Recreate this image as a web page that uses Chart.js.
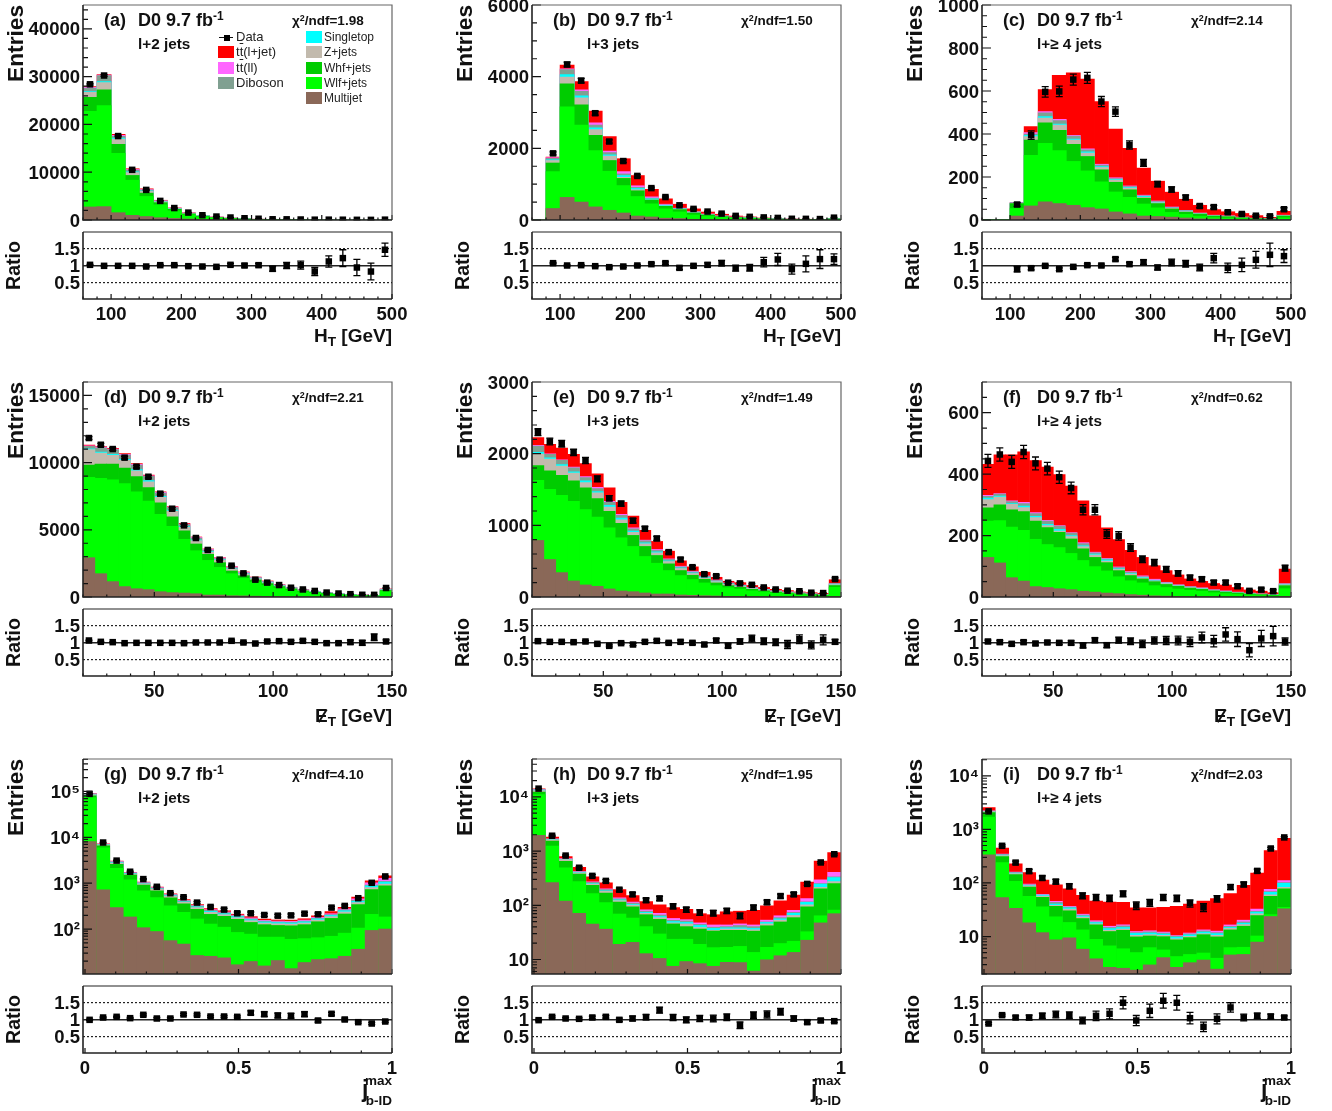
<!DOCTYPE html>
<html lang="en">
<head>
<meta charset="UTF-8">
<title>D0 9.7 fb-1 kinematic distributions</title>
<script src="https://cdn.jsdelivr.net/npm/chart.js"></script>
<style>
  html, body { margin: 0; padding: 0; background: #fff; }
  #page { position: relative; width: 1332px; height: 1111px; overflow: hidden; font-family: "Liberation Sans", Arial, sans-serif; color: #111; }
  canvas { position: absolute; }
  .txt { position: absolute; white-space: nowrap; line-height: 1; font-weight: bold; }
  .txt sup { font-size: 66%; line-height: 0; vertical-align: baseline; position: relative; top: -0.5em; }
  .txt sub { font-size: 72%; line-height: 0; vertical-align: baseline; position: relative; top: 0.3em; }
  .tag, .lumi { font-size: 18px; }
  .jets { font-size: 15.3px; }
  .chi { font-size: 13.5px; }
  .xt { font-size: 19px; }
  .et { position: relative; display: inline-block; }
  .et::after { content: ""; position: absolute; left: 0; top: 9px; width: 15px; height: 1.5px; background: #111; transform: rotate(-58deg); }
  .leg { position: absolute; white-space: nowrap; line-height: 1; color: #222; }
  .bar { text-decoration: overline; }
  .sw { position: absolute; width: 16px; height: 12px; }
</style>
</head>
<body>
<div id="page"></div>
<script>
// bin centres
const htBins = [70,90,110,130,150,170,190,210,230,250,270,290,310,330,350,370,390,410,430,450,470,490];
const metBins = [22.5,27.5,32.5,37.5,42.5,47.5,52.5,57.5,62.5,67.5,72.5,77.5,82.5,87.5,92.5,97.5,102.5,107.5,112.5,117.5,122.5,127.5,132.5,137.5,142.5,147.5];
const jBins = [.015,.059,.103,.147,.19,.234,.278,.321,.365,.409,.453,.496,.54,.584,.628,.671,.715,.759,.803,.846,.89,.934,.978];

// every sample array is the height of the stack up to and including that sample,
// the way ROOT's THStack overdraws them
// (a) HT, l+2 jets
const aMultijet = [2800,2870,1600,1050,800,550,400,280,200,140,100,70,50,35,25,20,15,12,10,8,6,8];
const aWlf = [22800,24000,14000,8400,5000,3250,2000,1180,730,480,330,230,160,115,85,65,50,38,30,25,20,30];
const aWhf = [25760,27300,15900,9400,5700,3700,2300,1350,860,570,390,275,195,140,105,80,62,48,38,32,26,38];
const aZjets = [26800,28840,17000,10000,6050,3900,2420,1450,930,620,425,300,212,153,115,88,68,52,42,35,29,42];
const aSingletop = [26950,29050,17220,10150,6150,3950,2450,1470,950,635,435,308,218,158,118,90,70,54,43,36,30,43];
const aDiboson = [27700,30300,17570,10500,6350,4050,2510,1510,980,660,450,320,226,165,123,94,73,56,45,38,31,45];
const aTtll = [27850,30380,17780,10650,6450,4120,2550,1540,1010,680,465,330,233,170,127,97,76,58,47,39,32,46];
const aTtlj = [28000,30500,18000,10800,6600,4200,2600,1580,1050,700,480,340,240,175,130,100,78,60,48,40,33,47];
const aData = [28400,30240,17570,10500,6300,4000,2500,1550,1000,720,520,370,260,150,140,105,65,70,58,38,27,70];
const aRatio = [1.02,.99,.99,.99,.97,1.01,1.01,.98,.97,.96,1.02,1,1.01,.9,1,1.01,.82,1.12,1.22,.94,.82,1.47];
const aRatioErr = [.01,.01,.01,.01,.015,.02,.02,.025,.03,.035,.04,.05,.05,.07,.09,.12,.12,.17,.25,.24,.25,.2];

// (b) HT, l+3 jets
const bMultijet = [0,330,640,510,375,280,205,120,95,60,50,30,25,18,14,12,9,7,5,4,3,7];
const bWlf = [5,1360,3170,2660,1950,1370,970,665,460,320,235,150,110,78,56,45,33,25,19,15,11,28];
const bWhf = [5,1600,3810,3220,2375,1670,1170,825,565,390,300,205,150,105,76,62,45,34,27,21,15,39];
const bZjets = [5,1670,4000,3420,2535,1795,1200,855,570,400,310,215,158,112,82,67,49,37,29,23,17,43];
const bSingletop = [5,1690,4065,3475,2580,1830,1250,890,600,420,320,225,165,116,85,70,51,38,30,24,17,44];
const bDiboson = [5,1730,4205,3600,2660,1890,1295,920,620,430,330,235,170,120,88,72,52,39,31,25,18,45];
const bTtll = [5,1750,4225,3640,2720,1935,1360,965,655,450,340,245,178,125,92,75,55,41,33,26,19,47];
const bTtlj = [5,1765,4330,3870,3050,2340,1720,1250,865,600,450,320,232,170,120,95,65,48,38,30,22,55];
const bData = [null,1860,4340,3890,2980,2190,1645,1230,890,640,410,310,235,178,115,88,72,58,34,32,26,65];
const bRatio = [null,1.07,1,1.01,.98,.95,.97,1,1.04,1.07,.93,.99,1.02,1.07,.92,.93,1.1,1.18,.89,1.05,1.19,1.19];
const bRatioErr = [null,.02,.015,.02,.02,.025,.03,.03,.035,.04,.05,.05,.06,.08,.09,.1,.14,.18,.15,.24,.28,.16];

// (c) HT, l+>=4 jets
const cMultijet = [0,0,20,67,86,78,70,59,53,39,30,20,18,15,11,7,6,5,4,2,2,3];
const cWlf = [2,2,55,302,358,325,274,230,179,132,107,76,58,37,28,18,13,11,8,5,4,12];
const cWhf = [2,2,78,373,454,419,353,297,235,177,142,103,78,53,38,29,20,17,12,8,6,20];
const cZjets = [2,2,79,389,476,443,373,313,246,187,150,107,82,56,41,31,22,19,14,9,6,22];
const cSingletop = [2,2,80,395,482,448,378,319,250,190,153,111,84,57,43,32,22,19,14,9,6,22];
const cDiboson = [2,2,81,401,500,464,392,328,257,194,157,114,87,59,45,33,23,20,15,10,7,23];
const cTtll = [2,2,81.5,408,506,470,395,333,261,198,160,117,90,62,46,34,24,21,15,10,7,24];
const cTtlj = [2,2,82,436,608,674,686,657,552,425,335,243,182,131,98,70,50,40,32,22,14,42];
const cData = [null,null,72,395,596,598,653,661,551,504,349,266,167,142,105,65,60,36,28,20,17,50];
const cRatio = [null,null,.89,.92,.99,.89,.96,1.01,1,1.19,1.04,1.1,.94,1.09,1.05,.94,1.22,.93,1.02,1.17,1.32,1.28];
const cRatioErr = [null,null,.08,.05,.04,.04,.04,.04,.04,.05,.05,.07,.07,.1,.1,.1,.14,.14,.2,.25,.35,.19];

// (d) MET, l+2 jets
const dMultijet = [2950,1760,1170,800,640,570,420,350,320,270,170,170,120,110,90,70,60,50,40,30,25,20,17,13,10,35];
const dWlf = [8930,8850,8750,8460,7860,7170,6180,5280,4320,3470,2750,2230,1760,1410,1120,890,700,540,410,320,250,190,150,115,95,440];
const dWhf = [9850,9920,9920,9620,8980,8160,7040,6000,4940,3970,3200,2580,1960,1610,1290,1020,800,630,480,370,290,225,175,135,110,510];
const dZjets = [11000,10740,10560,10190,9420,8600,7440,6420,5210,4220,3370,2780,2110,1740,1390,1090,860,680,520,400,315,245,190,150,120,560];
const dSingletop = [11060,10810,10640,10270,9500,8680,7510,6500,5260,4270,3420,2800,2130,1760,1410,1120,875,690,530,408,320,250,195,153,123,570];
const dDiboson = [11240,11130,10990,10590,9850,9000,7760,6670,5410,4410,3520,2880,2210,1810,1460,1170,910,720,550,425,335,260,205,160,128,595];
const dTtll = [11280,11190,11040,10640,9900,9050,7810,6720,5460,4460,3570,2930,2260,1860,1490,1190,930,735,560,435,342,266,210,165,132,610];
const dTtlj = [11330,11210,11090,10690,9950,9100,7860,6750,5510,4490,3600,2950,2280,1890,1510,1220,950,750,575,445,350,272,215,170,136,625];
const dData = [11830,11330,11010,10370,9700,8950,7690,6570,5330,4390,3500,2780,2330,1760,1290,1070,890,690,560,450,330,260,210,165,160,670];
const dRatio = [1.06,1.02,1.01,.98,.99,.99,.99,.99,.98,1,1,1,1.05,1,.97,1.03,1.04,1.02,1.05,1.02,.98,.98,1.01,.99,1.16,1.03];
const dRatioErr = [.01,.01,.01,.01,.01,.015,.015,.015,.02,.02,.02,.02,.025,.03,.03,.03,.03,.04,.04,.04,.05,.05,.06,.07,.1,.05];

// (e) MET, l+3 jets
const eMultijet = [794,528,345,229,173,154,117,89,79,61,47,47,33,28,23,19,14,11,9,8,6,5,4,3,3,10];
const eWlf = [1634,1508,1424,1340,1223,1121,971,831,710,570,476,374,304,248,201,163,135,115,90,75,60,50,40,30,24,140];
const eWhf = [1840,1765,1704,1625,1527,1378,1200,1032,864,710,584,467,374,308,252,201,163,140,112,92,74,62,50,38,30,165];
const eZjets = [2000,1929,1830,1733,1602,1457,1261,1083,906,747,621,500,402,332,271,220,182,155,124,102,82,69,56,43,35,178];
const eSingletop = [2022,1947,1854,1751,1625,1476,1284,1107,925,761,635,509,411,341,280,224,187,160,128,105,85,71,58,45,36,184];
const eDiboson = [2110,1994,1910,1807,1672,1518,1326,1144,957,789,654,528,425,355,290,234,196,167,134,110,89,74,61,47,38,190];
const eTtll = [2120,2003,1919,1817,1686,1536,1340,1158,971,798,668,537,434,364,299,243,201,172,138,113,92,76,63,49,39,193];
const eTtlj = [2228,2134,2083,1994,1868,1723,1527,1326,1135,934,780,644,509,425,350,280,224,205,165,138,112,95,75,65,55,245];
const eData = [2300,2170,2139,2017,1905,1649,1378,1303,1065,953,817,626,523,416,318,290,200,190,170,133,105,88,80,60,55,250];
const eRatio = [1.04,1.02,1.02,1.01,1.03,.96,.9,.98,.94,1.02,1.05,.99,1.02,.99,.94,1.06,.9,1.03,1.12,1.04,1.01,.94,1.1,.93,1.08,1.02];
const eRatioErr = [.03,.03,.03,.03,.03,.03,.03,.03,.035,.04,.04,.04,.05,.05,.05,.06,.06,.08,.1,.1,.1,.12,.13,.12,.15,.07];

// (f) MET, l+>=4 jets
const fMultijet = [130,112,64,53,35,32,28,25,20,17,14,12,9,7,5,4,3,2,2,2,1,1,1,1,1,3];
const fWlf = [248,250,229,218,189,172,162,143,120,100,86,67,54,47,38,32,27,23,20,15,12,10,8,6,5,28];
const fWhf = [291,301,285,279,248,227,212,190,158,130,113,87,71,60,51,42,36,30,26,21,17,14,11,9,7,38];
const fZjets = [318,326,303,292,260,234,216,198,165,138,118,91,76,63,53,45,38,32,28,22,18,15,12,10,8,41];
const fSingletop = [323,330,305,297,264,238,221,201,168,141,122,93,78,65,54,46,39,33,29,23,19,15,13,10,8,42];
const fDiboson = [329,336,312,305,273,248,232,209,175,145,125,97,82,67,56,47,40,34,30,24,20,16,13,11,9,44];
const fTtll = [332,338,314,309,276,251,234,211,178,147,127,99,84,70,59,49,41,35,31,25,21,17,14,11,9,45];
const fTtlj = [433,464,464,474,445,424,400,362,314,265,226,188,153,130,103,87,73,60,52,45,40,32,24,20,15,92];
const fData = [443,464,440,472,435,418,390,355,284,284,205,199,161,123,112,90,77,63,58,47,47,35,20,24,19,94];
const fRatio = [1.03,1.01,.96,1.01,.97,1,.99,.99,.91,1.07,.92,1.07,1.04,.96,1.06,1.06,1.06,1.02,1.15,1.04,1.24,1.1,.77,1.12,1.19,1.03];
const fRatioErr = [.04,.05,.05,.05,.05,.05,.05,.06,.07,.07,.07,.09,.1,.11,.11,.12,.13,.14,.16,.17,.2,.22,.2,.24,.29,.11];

// (g) j b-ID, l+2 jets
const gMultijet = [8260,730,299,187,109,90,57,48,27,26,24,17,20,16,21,14,19,22,23,26,37,95,102];
const gWlf = [75000,6000,2145,1210,693,495,325,236,169,131,112,86,79,68,68,61,63,66,71,83,107,213,187];
const gWhf = [81500,6630,2625,1530,925,693,487,360,275,213,193,166,142,127,122,120,127,147,174,217,348,743,893];
const gZjets = [87100,6970,2810,1610,988,755,530,392,299,236,210,180,155,138,133,131,138,160,190,240,385,820,973];
const gSingletop = [88500,7040,2850,1640,1000,770,545,400,310,247,220,190,163,146,141,139,147,170,202,256,410,890,1080];
const gDiboson = [90000,7200,2960,1700,1040,800,565,420,325,260,232,198,170,152,146,144,152,176,210,266,430,930,1120];
const gTtll = [91500,7280,3050,1730,1060,815,580,430,335,270,240,205,178,158,152,150,160,184,220,280,465,1040,1300];
const gTtlj = [93000,7350,3080,1760,1080,840,600,450,350,285,255,215,190,168,161,160,171,198,245,305,510,1150,1480];
const gData = [88700,7710,3110,1780,1230,836,606,495,378,304,266,221,221,203,196,199,217,210,294,320,471,1020,1406];
const gRatio = [.99,1.06,1.08,1.04,1.14,1.03,1.03,1.15,1.14,1.09,1.09,1.08,1.2,1.16,1.12,1.11,1.16,.97,1.17,1,.92,.88,.94];
const gRatioErr = [.02,.015,.02,.02,.03,.03,.03,.03,.03,.03,.03,.03,.06,.07,.07,.07,.07,.05,.04,.04,.03,.03,.03];

// (h) j b-ID, l+3 jets
const hMultijet = [1980,266,121,72,45.7,36.8,19.3,21,13,10.6,7.6,9.3,8.5,7.6,9,8.9,6.2,10,11.9,13.7,23,48,71];
const hWlf = [11200,1250,500,278,166,114,70,59,41,30,24,24,19.3,16.8,17,17.7,13.7,17,20,22,33,65,83];
const hWhf = [12400,1550,656,381,237,171,116,95,68,56,46,41,37,34,35,35,33.8,42.5,50,60,95,203,255];
const hZjets = [13300,1640,705,403,251,183,124,102,72,60,48,46,39.6,35,37,37,35.8,46,54,66,103,218,278];
const hSingletop = [13500,1660,715,410,256,188,128,106,75,63,51,49,43,38,39,39,38,49,57,72,115,250,330];
const hDiboson = [13700,1690,726,421,270,197,134,111,79,67,53.5,52,45,40,41,43,41,50,60,75,118,255,340];
const hTtll = [14000,1710,735,428,276,203,139,116,84,72,58,55,48,44,44,46,44,54,65,82,135,300,410];
const hTtlj = [14300,1840,802,507,340,262,197,154,119,103,92,85,71,68,77,79,82,99,123,157,273,665,950];
const hData = [14200,1920,826,493,349,282,194,159,124,134,96,83,74,72,79,64,91,114,148,159,248,617,875];
const hRatio = [.98,1.08,1.03,1.02,1.06,1.08,.99,1.03,1.07,1.28,1.06,.99,1.03,1.03,1.07,.83,1.13,1.15,1.23,1.03,.92,.97,.95];
const hRatioErr = [.02,.03,.03,.03,.04,.04,.05,.07,.08,.09,.09,.09,.09,.1,.1,.1,.1,.11,.1,.08,.05,.05,.04];

// (i) j b-ID, l+>=4 jets
const iMultijet = [340,54,34,18.3,12,8.8,9.6,5.9,3.9,2.7,2.6,2.4,3,4.1,2.7,3.3,3.7,2.5,4.6,4.7,8,24,33.5];
const iWlf = [1730,244,109,57,36.5,23.7,18.6,13.5,9,6.8,6,5.1,6.3,5.7,4.3,4.7,5,4,6.3,6.4,10.4,26,35.5];
const iWhf = [2080,316,145,85,55,37,30.7,22,16.8,12.6,13.3,10,10.4,10.1,8.8,9.7,11,10,13.5,15.8,25,57,79];
const iZjets = [2170,330,152,90,58,39,33,23.4,17.5,13.3,14,10.7,11,10.7,9.2,10.2,11.5,10.7,14.4,17,27,61,84];
const iSingletop = [2190,335,155,92,60,41,35,24.5,18.5,14.3,15,11.6,11.8,11.3,9.9,10.9,12.3,11.5,15,18,29,68,100];
const iDiboson = [2240,345,158,94,60.4,44,36,25.5,19,15,16,12,12.4,11.8,10.3,11.4,12.9,12,15.7,19,30,70,103];
const iTtll = [2260,350,162,97,62,46,37,26.5,20,15.8,16.8,12.6,13,12.3,10.6,11.8,13.5,12.8,16.7,20.5,33,77,113];
const iTtlj = [2590,453,230,158,115,94,79,59.6,46.7,44.7,44,35,35,35.5,37,41,46.7,51.6,64,92,156,410,690];
const iData = [2170,494,240,166,124,106,87,58,54,52,63,38,43,54,52,42,35,51,84,94,168,440,708];
const iRatio = [.88,1.13,1.06,1.06,1.11,1.15,1.13,.97,1.11,1.17,1.5,.97,1.26,1.56,1.5,1.04,.78,1.02,1.36,1.06,1.11,1.09,1.06];
const iRatioErr = [.03,.03,.05,.07,.08,.1,.1,.1,.14,.15,.18,.15,.2,.22,.22,.17,.14,.15,.14,.1,.08,.07,.05];

// tick labels
const htTicks = [100,200,300,400,500];
const metTicks = [50,100,150];
const jTicks = [0,.5,1];
const ratioTicks = [.5,1,1.5];
const sampleNames = ['Multijet','Wlf+jets','Whf+jets','Z+jets','Singletop','Diboson','tt(ll)','tt(l+jet)'];
const sampleColors = ['#8a6858','#00ff00','#00cc00','#c2baad','#00ffff','#80a091','#ff66ff','#ff0000'];

const colX = [83, 532, 982];
const rowMain = [5, 382, 759];
const rowRatio = [232, 609, 986];
const plotW = 309, mainH = 215, ratioH = 67;
const tickFont = { family: '"Liberation Sans"', size: 18.5, weight: 'bold' };
const page = document.getElementById('page');

// keep the plot area where it was asked to be, labels may hang over its edge
function noPadding(s) { s.paddingTop = s.paddingBottom = s.paddingLeft = s.paddingRight = 0; }

// ROOT-style inward ticks, frame and data error bars
const rootFrame = {
  id: 'rootFrame',
  afterDatasetsDraw(chart, args, opts) {
    const { ctx, chartArea: a, scales } = chart;
    ctx.save();
    // error bars
    chart.data.datasets.forEach(ds => {
      if (!ds.errs) return;
      ctx.strokeStyle = '#000';
      ctx.lineWidth = 1.3;
      ds.data.forEach((p, i) => {
        if (p.y == null) return;
        const e = ds.errs[i];
        const x = scales.x.getPixelForValue(p.x);
        const y1 = scales.y.getPixelForValue(Math.max(p.y - e, scales.y.min));
        const y2 = scales.y.getPixelForValue(p.y + e);
        ctx.beginPath();
        ctx.moveTo(x, y1); ctx.lineTo(x, y2);
        ctx.moveTo(x - 3.5, y1); ctx.lineTo(x + 3.5, y1);
        ctx.moveTo(x - 3.5, y2); ctx.lineTo(x + 3.5, y2);
        ctx.stroke();
      });
    });
    // ticks
    ctx.strokeStyle = '#111';
    ctx.lineWidth = 1.2;
    ctx.beginPath();
    opts.xMinor.forEach(v => {
      const x = scales.x.getPixelForValue(v);
      const len = opts.xMajor.includes(v) ? 5 : 2.5;
      ctx.moveTo(x, a.bottom); ctx.lineTo(x, a.bottom - len);
    });
    opts.yMinor.forEach(v => {
      const y = scales.y.getPixelForValue(v);
      const len = opts.yMajor.includes(v) ? 9 : 5;
      ctx.moveTo(a.left, y); ctx.lineTo(a.left + len, y);
    });
    ctx.stroke();
    // frame
    ctx.lineWidth = 1.2;
    ctx.strokeStyle = opts.frameLight;
    ctx.beginPath();
    ctx.moveTo(a.left, a.top); ctx.lineTo(a.right, a.top); ctx.lineTo(a.right, a.bottom);
    ctx.stroke();
    ctx.lineWidth = 1.6;
    ctx.strokeStyle = '#222';
    ctx.beginPath();
    ctx.moveTo(a.left, a.top); ctx.lineTo(a.left, a.bottom); ctx.lineTo(a.right, a.bottom);
    ctx.stroke();
    ctx.restore();
  }
};

function dataSet(bins, vals, errs) {
  return {
    type: 'line',
    label: 'Data',
    data: bins.map((x, i) => ({ x, y: vals[i] })),
    showLine: false,
    pointStyle: 'rect',
    pointRadius: 4.6,
    pointBorderWidth: 0,
    backgroundColor: '#000',
    order: 0,
    errs
  };
}

function makeCanvas(left, top, w, h) {
  const c = document.createElement('canvas');
  c.width = w; c.height = h;
  c.style.left = left + 'px';
  c.style.top = top + 'px';
  c.style.width = w + 'px';
  c.style.height = h + 'px';
  page.appendChild(c);
  return c;
}

function xScale(xr, labels, showLabels) {
  return {
    type: 'linear',
    min: xr[0], max: xr[1],
    offset: false,
    grid: { display: false, drawTicks: false },
    border: { display: false },
    afterBuildTicks: s => { s.ticks = labels.map(value => ({ value })); },
    ticks: { display: showLabels, autoSkip: false, maxRotation: 0, padding: 5, font: tickFont, color: '#111', callback: v => String(v) },
    afterFit: s => { s.height = showLabels ? 30 : 12; noPadding(s); }
  };
}

function mainChart(p) {
  const left = colX[p.col], top = rowMain[p.row];
  const c = makeCanvas(left - 82, top - 12, 82 + plotW + 22, 12 + mainH + 12);
  const sets = p.levels.map((vals, i) => ({
    label: sampleNames[i],
    data: p.bins.map((x, k) => ({ x, y: vals[k] })),
    backgroundColor: sampleColors[i],
    borderWidth: 0,
    grouped: false,
    barPercentage: 1.05,
    categoryPercentage: 1,
    order: i + 1
  }));
  sets.unshift(dataSet(p.bins, p.data, p.data.map(v => v == null ? null : Math.sqrt(v))));
  new Chart(c, {
    type: 'bar',
    data: { datasets: sets },
    plugins: [rootFrame],
    options: {
      responsive: false,
      animation: false,
      events: [],
      layout: { autoPadding: false, padding: { top: 12, right: 22, left: 0, bottom: 0 } },
      plugins: {
        legend: { display: false }, tooltip: { enabled: false },
        rootFrame: { xMinor: p.xMinor, xMajor: p.xTicks, yMinor: p.yMinor, yMajor: p.yTicks, frameLight: '#666' }
      },
      scales: {
        x: xScale(p.xr, p.xTicks, false),
        y: {
          type: p.log ? 'logarithmic' : 'linear',
          min: p.yr[0], max: p.yr[1],
          grid: { display: false, drawTicks: false },
          border: { display: false },
          afterBuildTicks: s => { s.ticks = p.yTicks.map(value => ({ value })); },
          ticks: { autoSkip: false, padding: 3, labelOffset: 1.5, font: tickFont, color: '#111', callback: (v, i) => p.yLabels[i] },
          title: { display: true, text: 'Entries', align: 'end', color: '#111', padding: { top: 2, bottom: 0 }, font: { family: '"Liberation Sans"', size: 22.7, weight: 'bold' } },
          afterFit: s => { s.width = 82; noPadding(s); }
        }
      }
    }
  });
}

function ratioChart(p) {
  const left = colX[p.col], top = rowRatio[p.row];
  const c = makeCanvas(left - 82, top - 4, 82 + plotW + 22, 4 + ratioH + 30);
  new Chart(c, {
    type: 'line',
    data: { datasets: [dataSet(p.bins, p.ratio, p.ratioErr)] },
    plugins: [rootFrame],
    options: {
      responsive: false,
      animation: false,
      events: [],
      layout: { autoPadding: false, padding: { top: 4, right: 22, left: 0, bottom: 0 } },
      plugins: {
        legend: { display: false }, tooltip: { enabled: false },
        rootFrame: { xMinor: p.xMinor, xMajor: p.xTicks, yMinor: [], yMajor: [], frameLight: '#222' }
      },
      scales: {
        x: xScale(p.xr, p.xTicks, true),
        y: {
          type: 'linear',
          min: 0, max: 2,
          grid: { color: '#222', lineWidth: ctx => ctx.tick && ctx.tick.value === 1 ? 1.6 : 1.2, drawTicks: false },
          border: { display: false, dash: ctx => ctx.tick && ctx.tick.value === 1 ? [] : [2, 2] },
          afterBuildTicks: s => { s.ticks = ratioTicks.map(value => ({ value })); },
          ticks: { autoSkip: false, padding: 3, labelOffset: 1.5, font: tickFont, color: '#111', callback: v => String(v) },
          title: { display: true, text: 'Ratio', color: '#111', padding: { top: 2, bottom: 0 }, font: { family: '"Liberation Sans"', size: 19.6, weight: 'bold' } },
          afterFit: s => { s.width = 82; noPadding(s); }
        }
      }
    }
  });
}

function txt(cls, left, top, html) {
  const d = document.createElement('div');
  d.className = 'txt ' + cls;
  d.style.left = left + 'px';
  d.style.top = top + 'px';
  d.innerHTML = html;
  page.appendChild(d);
  return d;
}

function annotate(p) {
  const x = colX[p.col], y = rowMain[p.row], r = rowRatio[p.row] + ratioH;
  txt('tag', x + 21, y + 6, '(' + p.id + ')');
  txt('lumi', x + 55, y + 6, 'D0 9.7 fb<sup>-1</sup>');
  txt('chi', x + 209, y + 9, '&chi;<sup>2</sup>/ndf=' + p.chi2);
  txt('jets', x + 55, y + 31, p.jets);
  const right = 1332 - (x + plotW);
  if (p.kind === 'ht') {
    const d = txt('xt', 0, r + 27, 'H<sub>T</sub> [GeV]');
    d.style.left = 'auto'; d.style.right = right + 'px';
  } else if (p.kind === 'met') {
    const d = txt('xt', 0, r + 30, '<span class="et">E</span><sub>T</sub> [GeV]');
    d.style.left = 'auto'; d.style.right = right + 'px';
  } else {
    txt('xt', x + 279, r + 25, '<span style="font-size:23px">j</span>');
    const a = txt('', 0, r + 21, 'max'); a.style.fontSize = '13.5px'; a.style.left = 'auto'; a.style.right = right + 'px';
    const b = txt('', 0, r + 41, 'b-ID'); b.style.fontSize = '13.5px'; b.style.left = 'auto'; b.style.right = right + 'px';
  }
}

const htMinor = [60,80,100,120,140,160,180,200,220,240,260,280,300,320,340,360,380,400,420,440,460,480,500];
const metMinor = [20,30,40,50,60,70,80,90,100,110,120,130,140,150];
const jMinor = [0,.1,.2,.3,.4,.5,.6,.7,.8,.9,1];

function steps(from, to, by) {
  const out = [];
  for (let v = from; v <= to + 1e-9; v += by) out.push(Math.round(v * 1000) / 1000);
  return out;
}
function logMinor(lo, hi) {
  const out = [];
  for (let e = lo; e < hi; e++) for (let m = 1; m < 10; m++) out.push(m * Math.pow(10, e));
  return out;
}

const panels = [
  { id: 'a', col: 0, row: 0, kind: 'ht', chi2: '1.98', jets: 'l+2 jets', levels: [aMultijet,aWlf,aWhf,aZjets,aSingletop,aDiboson,aTtll,aTtlj], data: aData, ratio: aRatio, ratioErr: aRatioErr,
    yr: [0,45000], yTicks: [0,10000,20000,30000,40000], yLabels: ['0','10000','20000','30000','40000'], yMinor: steps(0,44000,2000) },
  { id: 'b', col: 1, row: 0, kind: 'ht', chi2: '1.50', jets: 'l+3 jets', levels: [bMultijet,bWlf,bWhf,bZjets,bSingletop,bDiboson,bTtll,bTtlj], data: bData, ratio: bRatio, ratioErr: bRatioErr,
    yr: [0,6000], yTicks: [0,2000,4000,6000], yLabels: ['0','2000','4000','6000'], yMinor: steps(0,6000,500) },
  { id: 'c', col: 2, row: 0, kind: 'ht', chi2: '2.14', jets: 'l+&ge; 4 jets', levels: [cMultijet,cWlf,cWhf,cZjets,cSingletop,cDiboson,cTtll,cTtlj], data: cData, ratio: cRatio, ratioErr: cRatioErr,
    yr: [0,1000], yTicks: [0,200,400,600,800,1000], yLabels: ['0','200','400','600','800','1000'], yMinor: steps(0,1000,50) },
  { id: 'd', col: 0, row: 1, kind: 'met', chi2: '2.21', jets: 'l+2 jets', levels: [dMultijet,dWlf,dWhf,dZjets,dSingletop,dDiboson,dTtll,dTtlj], data: dData, ratio: dRatio, ratioErr: dRatioErr,
    yr: [0,16000], yTicks: [0,5000,10000,15000], yLabels: ['0','5000','10000','15000'], yMinor: steps(0,16000,1000) },
  { id: 'e', col: 1, row: 1, kind: 'met', chi2: '1.49', jets: 'l+3 jets', levels: [eMultijet,eWlf,eWhf,eZjets,eSingletop,eDiboson,eTtll,eTtlj], data: eData, ratio: eRatio, ratioErr: eRatioErr,
    yr: [0,3000], yTicks: [0,1000,2000,3000], yLabels: ['0','1000','2000','3000'], yMinor: steps(0,3000,200) },
  { id: 'f', col: 2, row: 1, kind: 'met', chi2: '0.62', jets: 'l+&ge; 4 jets', levels: [fMultijet,fWlf,fWhf,fZjets,fSingletop,fDiboson,fTtll,fTtlj], data: fData, ratio: fRatio, ratioErr: fRatioErr,
    yr: [0,700], yTicks: [0,200,400,600], yLabels: ['0','200','400','600'], yMinor: steps(0,700,50) },
  { id: 'g', col: 0, row: 2, kind: 'j', log: true, chi2: '4.10', jets: 'l+2 jets', levels: [gMultijet,gWlf,gWhf,gZjets,gSingletop,gDiboson,gTtll,gTtlj], data: gData, ratio: gRatio, ratioErr: gRatioErr,
    yr: [10.5,510000], yTicks: [100,1000,10000,100000], yLabels: ['10²','10³','10⁴','10⁵'], yMinor: logMinor(1,6) },
  { id: 'h', col: 1, row: 2, kind: 'j', log: true, chi2: '1.95', jets: 'l+3 jets', levels: [hMultijet,hWlf,hWhf,hZjets,hSingletop,hDiboson,hTtll,hTtlj], data: hData, ratio: hRatio, ratioErr: hRatioErr,
    yr: [5.4,50000], yTicks: [10,100,1000,10000], yLabels: ['10','10²','10³','10⁴'], yMinor: logMinor(0,5) },
  { id: 'i', col: 2, row: 2, kind: 'j', log: true, chi2: '2.03', jets: 'l+&ge; 4 jets', levels: [iMultijet,iWlf,iWhf,iZjets,iSingletop,iDiboson,iTtll,iTtlj], data: iData, ratio: iRatio, ratioErr: iRatioErr,
    yr: [2,20600], yTicks: [10,100,1000,10000], yLabels: ['10','10²','10³','10⁴'], yMinor: logMinor(0,5) }
];

const xByKind = {
  ht: { bins: htBins, xr: [60,500], xTicks: htTicks, xMinor: htMinor },
  met: { bins: metBins, xr: [20,150], xTicks: metTicks, xMinor: metMinor },
  j: { bins: jBins, xr: [-0.0065,1], xTicks: jTicks, xMinor: jMinor }
};

panels.forEach(p => {
  Object.assign(p, xByKind[p.kind]);
  p.yMinor = p.yMinor.filter(v => v >= p.yr[0] && v <= p.yr[1]);
  mainChart(p);
  ratioChart(p);
  annotate(p);
});

// legend inside panel (a)
const legLeft = [['tt', '#ff0000', 52, 't<span class="bar">t</span>(l+jet)'], ['ll', '#ff66ff', 68, 't<span class="bar">t</span>(ll)'], ['db', sampleColors[5], 83, 'Diboson']];
const legRight = [[sampleColors[4], 37, 'Singletop'], [sampleColors[3], 52, 'Z+jets'], [sampleColors[2], 68, 'Whf+jets'], [sampleColors[1], 83, 'Wlf+jets'], [sampleColors[0], 98, 'Multijet']];
function legendRow(x, y, color, html, size) {
  if (color) {
    const s = document.createElement('div');
    s.className = 'sw';
    s.style.left = x + 'px'; s.style.top = (y - 6) + 'px'; s.style.background = color;
    page.appendChild(s);
  }
  const t = document.createElement('div');
  t.className = 'leg';
  t.style.left = (x + 18) + 'px';
  t.style.top = (y - size / 2 - 0.5) + 'px';
  t.style.fontSize = size + 'px';
  t.innerHTML = html;
  page.appendChild(t);
}
legendRow(218, 37, null, 'Data', 13);
const dash = document.createElement('div');
dash.style.cssText = 'position:absolute;left:219px;top:37px;width:14px;height:1.3px;background:#111';
page.appendChild(dash);
const dot = document.createElement('div');
dot.style.cssText = 'position:absolute;left:224px;top:35px;width:6px;height:6px;background:#000';
page.appendChild(dot);
legLeft.forEach(r => legendRow(218, r[2], r[1], r[3], 13));
legRight.forEach(r => legendRow(306, r[1], r[0], r[2], 12));
</script>
</body>
</html>
